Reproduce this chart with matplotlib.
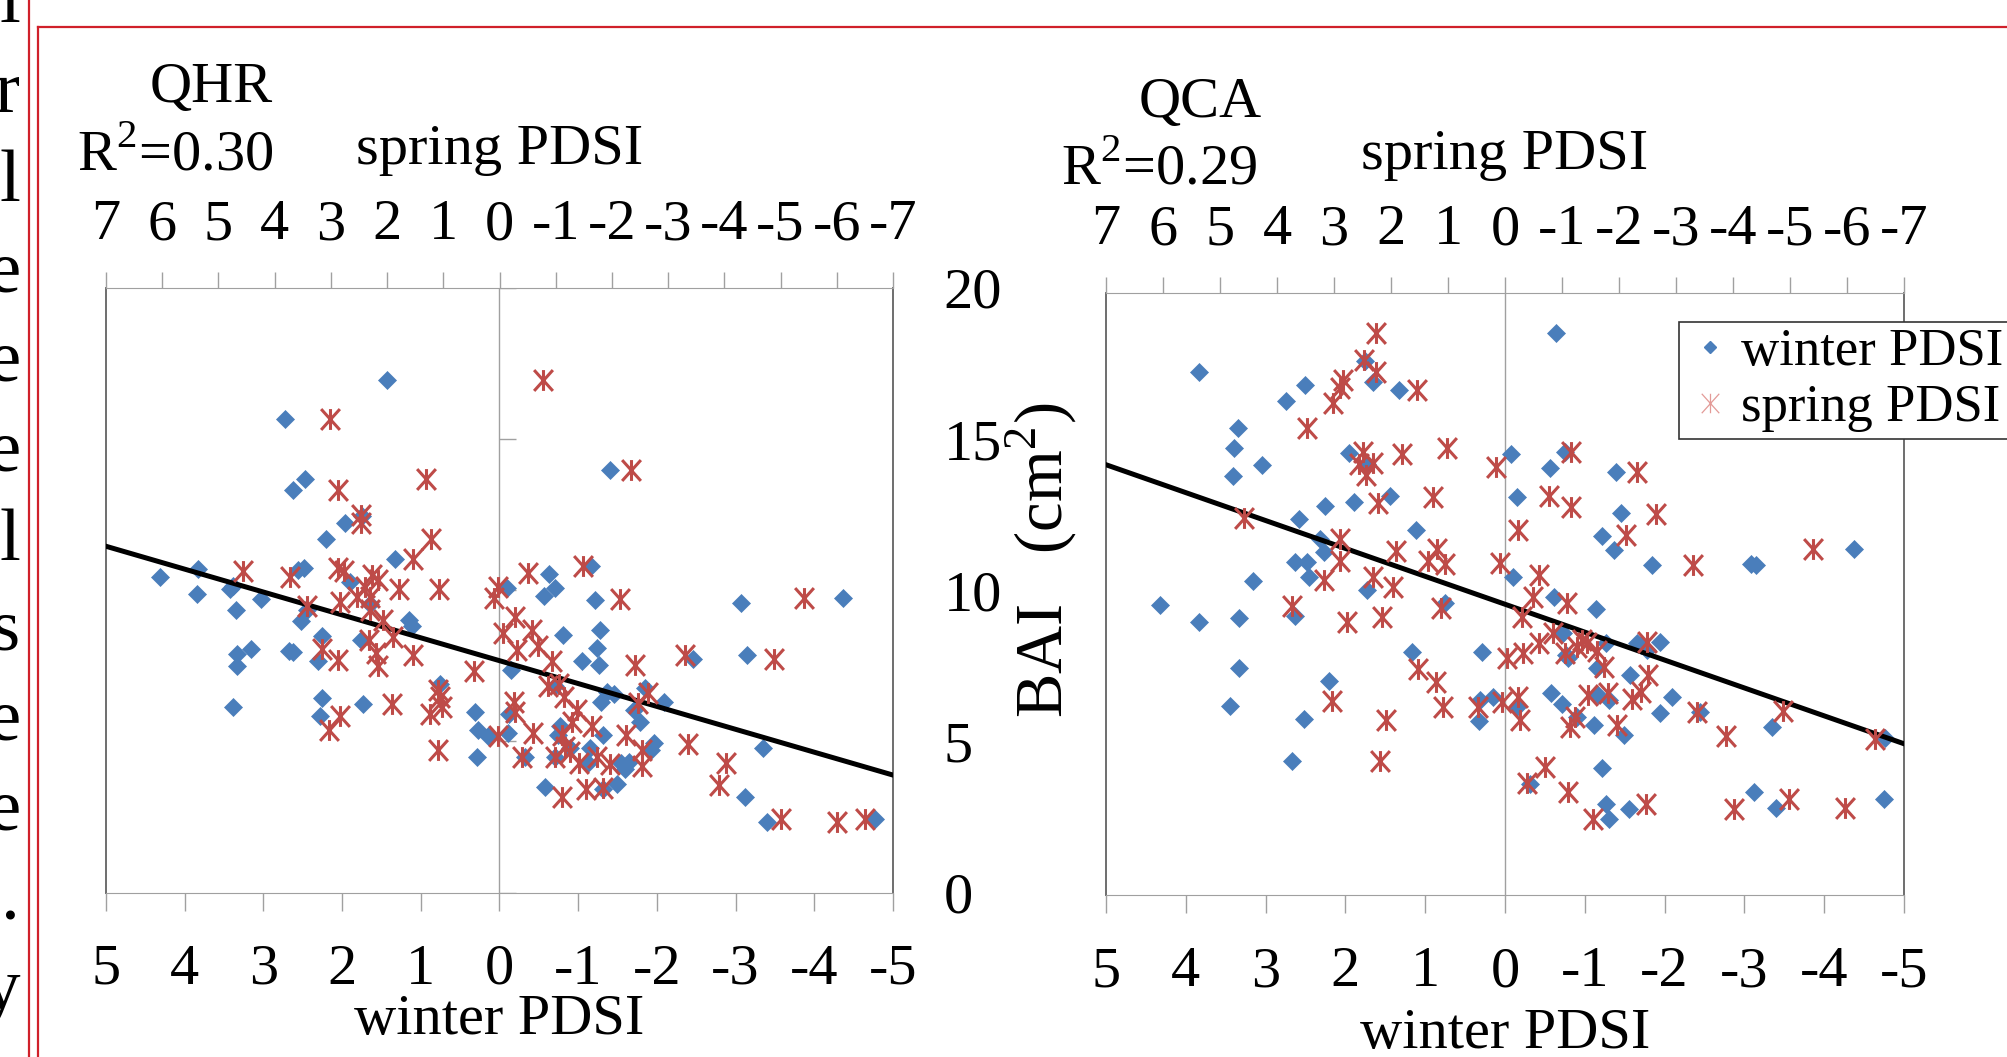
import numpy as np
import matplotlib.pyplot as plt
from matplotlib.lines import Line2D
from matplotlib.path import Path

plt.rcParams['font.family'] = ['Liberation Serif', 'DejaVu Serif']
plt.rcParams['mathtext.fontset'] = 'custom'
plt.rcParams['mathtext.rm'] = 'Liberation Serif'
plt.rcParams['axes.unicode_minus'] = False

# ---- data: (PDSI, BAI cm2) ----
qhr_winter = [
    (1.43, 16.95), (2.73, 15.65), (2.47, 13.67), (2.63, 13.33), (1.96, 12.23), (1.75, 12.45),
    (2.20, 11.69), (1.33, 11.02), (4.31, 10.45), (3.83, 10.69), (3.84, 9.87), (3.42, 10.03),
    (3.38, 10.14), (3.03, 9.70), (2.56, 10.67), (2.49, 10.74), (1.90, 10.28), (1.65, 9.56),
    (-1.40, 13.97), (-0.63, 10.53), (-0.71, 10.09), (-0.57, 9.81), (-1.16, 10.80), (-1.21, 9.67),
    (-3.07, 9.59), (-4.37, 9.76), (-0.09, 10.06),
    (3.35, 9.36), (2.52, 8.99), (2.45, 9.34), (2.26, 8.48), (3.16, 8.05), (3.34, 7.88),
    (3.33, 7.50), (2.68, 8.00), (2.62, 7.96), (2.31, 7.66), (1.76, 8.35), (1.15, 9.03),
    (1.11, 8.81), (3.39, 6.14), (2.25, 6.42), (2.28, 5.83), (1.73, 6.25), (0.75, 6.91),
    (0.31, 5.96), (0.27, 5.37), (0.15, 5.17), (0.29, 4.49),
    (-0.81, 8.53), (-1.28, 8.70), (-1.24, 8.10), (-1.05, 7.65), (-1.27, 7.54), (-0.15, 7.35),
    (-2.46, 7.74), (-3.14, 7.87), (-0.71, 6.83), (-1.36, 6.64), (-1.46, 6.58), (-1.29, 6.31),
    (-1.85, 6.75), (-2.09, 6.31), (-1.71, 6.03), (-1.78, 5.65), (-0.12, 5.92), (-0.11, 5.28),
    (-0.77, 5.50), (-0.74, 5.21), (-1.31, 5.21), (-0.90, 4.77), (-1.15, 4.77), (-1.96, 4.93),
    (-1.93, 4.73), (-0.32, 4.49), (-0.71, 4.49), (-1.13, 4.27), (-1.55, 4.27), (-1.64, 4.32),
    (-1.60, 4.10), (-0.58, 3.48), (-1.32, 3.44), (-1.49, 3.58), (-3.35, 4.79), (-3.12, 3.15),
    (-3.40, 2.34), (-4.77, 2.43),
]
qhr_spring = [
    (3.01, 15.65), (1.31, 13.67), (2.88, 13.33), (2.46, 12.48), (2.46, 12.23), (1.22, 11.69),
    (1.54, 11.02), (4.57, 10.64), (3.73, 10.45), (2.87, 10.75), (2.76, 10.64), (2.27, 10.50),
    (2.16, 10.34), (2.39, 10.12), (1.78, 10.03), (1.08, 10.03), (0.10, 9.75), (2.84, 9.62),
    (2.54, 9.79), (3.43, 9.48), (2.30, 9.79),
    (-0.78, 16.95), (-2.34, 13.97), (-0.50, 10.56), (-1.48, 10.80), (-2.15, 9.70), (-5.41, 9.73),
    (0.03, 10.10),
    (2.30, 9.34), (2.08, 9.01), (1.90, 8.46), (2.33, 8.37), (3.16, 8.07), (2.88, 7.69),
    (2.20, 7.93), (2.17, 7.50), (1.53, 7.85), (0.45, 7.33), (1.09, 6.69), (1.06, 6.47),
    (1.03, 6.14), (1.23, 5.92), (1.92, 6.25), (2.83, 5.83), (3.03, 5.37), (1.10, 4.73),
    (-0.28, 9.12), (-0.07, 8.57), (-0.57, 8.70), (-0.31, 8.02), (-0.69, 8.15), (-0.93, 7.65),
    (-2.41, 7.52), (-3.30, 7.85), (-4.89, 7.74), (-0.87, 6.83), (-1.05, 6.91), (-1.14, 6.47),
    (-1.38, 6.03), (-1.29, 5.65), (-1.64, 5.50), (-0.25, 6.31), (-0.28, 5.98), (-0.60, 5.28),
    (0.02, 5.17), (-1.11, 5.21), (-1.17, 4.82), (-1.26, 4.66), (-2.65, 6.60), (-2.47, 6.27),
    (-2.25, 5.21), (-2.53, 4.73), (-2.53, 4.18), (-1.97, 4.25), (-1.73, 4.49), (-1.41, 4.27),
    (-0.99, 4.47), (-0.40, 4.49), (-3.36, 4.91), (-4.03, 4.27), (-3.90, 3.55), (-1.11, 3.15),
    (-1.54, 3.44), (-1.85, 3.46), (-5.01, 2.42), (-6.00, 2.34), (-6.51, 2.42),
]
qhr_fit = (7.67, 0.757)   # intercept, slope against winter PDSI
qhr_r2 = '0.30'

qca_winter = [
    (3.84, 17.39), (2.51, 16.94), (2.74, 16.41), (1.75, 17.75), (1.65, 17.05), (1.33, 16.78),
    (3.35, 15.50), (3.40, 14.84), (3.05, 14.29), (3.41, 13.92), (1.96, 14.70), (1.73, 14.32),
    (1.44, 13.27), (2.25, 12.94), (1.89, 13.04), (2.58, 12.49), (1.12, 12.13), (2.32, 11.82),
    (2.27, 11.41), (2.63, 11.07), (2.48, 11.07), (2.45, 10.58), (3.16, 10.44), (1.73, 10.13),
    (-0.64, 18.68), (-0.08, 14.65), (-0.75, 14.73), (-0.57, 14.20), (-1.39, 14.06), (-0.15, 13.21),
    (-1.45, 12.70), (-1.21, 11.93), (-1.36, 11.46), (-1.84, 10.96), (-3.08, 11.00), (-3.15, 10.96),
    (-4.37, 11.48), (-0.10, 10.58),
    (4.32, 9.63), (3.83, 9.08), (3.33, 9.21), (2.63, 9.27), (0.75, 9.71), (1.16, 8.08),
    (0.29, 8.08), (3.33, 7.53), (2.20, 7.11), (3.45, 6.28), (2.52, 5.84), (2.67, 4.45),
    (0.31, 6.48), (0.32, 5.78), (0.15, 6.57),
    (-0.61, 9.91), (-1.14, 9.49), (-0.73, 8.72), (-1.27, 8.38), (-1.65, 8.38), (-1.71, 8.31),
    (-1.94, 8.42), (-0.77, 7.97), (-0.79, 7.86), (-1.78, 8.14), (-1.15, 7.53), (-1.57, 7.31),
    (-0.58, 6.72), (-0.71, 6.35), (-1.17, 6.64), (-1.30, 6.48), (-2.09, 6.59), (-1.94, 6.06),
    (-0.15, 6.24), (-0.90, 5.93), (-1.12, 5.65), (-1.49, 5.32), (-2.44, 6.09), (-3.34, 5.59),
    (-4.76, 5.20), (-1.22, 4.21), (-0.31, 3.69), (-1.27, 3.02), (-1.30, 2.52), (-1.55, 2.85),
    (-3.12, 3.43), (-3.39, 2.88), (-4.75, 3.19),
]
qca_spring = [
    (2.26, 18.66), (2.47, 17.77), (2.26, 17.39), (2.85, 17.11), (2.89, 16.83), (3.02, 16.36),
    (1.55, 16.78), (3.48, 15.50), (2.49, 14.73), (2.56, 14.32), (2.31, 14.34), (2.43, 13.95),
    (1.80, 14.65), (1.02, 14.84), (0.15, 14.21), (2.22, 13.01), (1.26, 13.21), (4.58, 12.51),
    (2.90, 11.82), (2.90, 11.11), (1.91, 11.44), (1.19, 11.48), (1.35, 11.11), (1.05, 11.00),
    (0.09, 11.04), (3.18, 10.47), (2.31, 10.58), (1.96, 10.24),
    (-1.15, 14.73), (-2.32, 14.04), (-0.78, 13.26), (-1.15, 12.90), (-0.23, 12.13), (-2.65, 12.66),
    (-2.13, 11.96), (-0.60, 10.63), (-3.30, 10.96), (-5.40, 11.48),
    (3.73, 9.60), (2.78, 9.08), (2.16, 9.23), (1.13, 9.52), (1.52, 7.50), (1.21, 7.09),
    (3.04, 6.46), (2.09, 5.81), (2.19, 4.45), (1.09, 6.26), (0.47, 6.26), (0.06, 6.42),
    (-0.50, 9.91), (-1.08, 9.71), (-0.29, 9.25), (-0.85, 8.72), (-0.60, 8.38), (-0.32, 8.05),
    (-0.03, 7.86), (-1.35, 8.47), (-1.26, 8.25), (-1.44, 8.38), (-1.05, 8.03), (-1.62, 8.12),
    (-2.49, 8.42), (-1.74, 7.56), (-2.51, 7.31), (-2.38, 6.76), (-1.81, 6.70), (-1.46, 6.64),
    (-2.22, 6.50), (-0.23, 6.59), (-0.26, 5.81), (-1.14, 5.59), (-1.23, 5.93), (-1.97, 5.65),
    (-3.36, 6.09), (-3.88, 5.28), (-4.88, 6.12), (-6.49, 5.17), (-0.70, 4.24), (-0.38, 3.71),
    (-1.11, 3.43), (-1.54, 2.52), (-2.47, 3.02), (-4.01, 2.85), (-4.99, 3.19), (-5.97, 2.88),
]
qca_fit = (9.66, 0.927)
qca_r2 = '0.29'

winter_ticks = np.arange(-5, 6)
spring_ticks = np.arange(-7, 8)
bai_ticks = np.arange(0, 21, 5)

# cropped word endings of the neighbouring text column
margin_letters = ['l', 'r', 'l', 'e', 'e', 'e', 'l', 's', 'e', 'e', '.', 'y']

BLUE = '#4A7EBB'
RED = '#BE4B48'
GRAY = '#A0A0A0'
DARK = '#6E6E6E'
FS = 42

star = Path([(0, -1), (0, 1), (-0.9, -1), (0.9, 1), (-0.9, 1), (0.9, -1)],
            [Path.MOVETO, Path.LINETO, Path.MOVETO, Path.LINETO, Path.MOVETO, Path.LINETO])

W, H = 2008, 1057
fig = plt.figure(figsize=(W / 100, H / 100), dpi=100)


def rect(left, top, right, bottom):
    return [left / W, 1 - bottom / H, (right - left) / W, (bottom - top) / H]


def panel(r, winter, spring, fit, bottom_lp, top_lp, right_labels):
    ax = fig.add_axes(r)
    top = ax.twiny()
    ax.set_xlim(5, -5)
    ax.set_ylim(0, 20)
    top.set_xlim(7, -7)
    ax.set_xticks(winter_ticks)
    top.set_xticks(spring_ticks)
    ax.set_yticks(bai_ticks)

    for s in ['left', 'right']:
        ax.spines[s].set_color(DARK)
        ax.spines[s].set_linewidth(1.4)
    ax.spines['bottom'].set_color(GRAY)
    ax.spines['top'].set_visible(False)
    for s in ['left', 'right', 'bottom']:
        top.spines[s].set_visible(False)
    top.spines['top'].set_color(GRAY)

    ax.tick_params(axis='x', direction='out', length=13, width=1, color=GRAY,
                   labelsize=FS, pad=24)
    top.tick_params(axis='x', direction='out', length=11.5, width=1, color=GRAY,
                    labelsize=FS, pad=15)
    ax.tick_params(axis='y', left=False, right=False, labelleft=False,
                   labelright=right_labels, labelsize=FS, pad=33)

    ax.axvline(0, color=GRAY, lw=1, zorder=0.5)

    wx, wy = np.array(winter).T
    sx, sy = np.array(spring).T
    ax.plot(wx, wy, ls='none', marker='D', ms=9, mfc=BLUE, mec=BLUE, mew=0.5, zorder=2)
    xs = np.array(ax.get_xlim())
    ax.plot(xs, fit[0] + fit[1] * xs, color='black', lw=3.6, zorder=3)
    top.plot(sx, sy, ls='none', marker=star, ms=15, mfc='none', mec=RED, mew=2.2)

    ax.set_xlabel('winter PDSI', fontsize=FS, labelpad=bottom_lp)
    top.set_xlabel('spring PDSI', fontsize=FS, labelpad=top_lp)
    return ax, top


ax1, top1 = panel(rect(106, 288, 893, 892.5), qhr_winter, qhr_spring, qhr_fit, -1.5, 25, True)
ax1.plot(np.zeros(len(bai_ticks)), bai_ticks, ls='none', marker=1, ms=12, mew=1,
         color=GRAY, zorder=0.6)

ax2, top2 = panel(rect(1106, 293, 1904, 895), qca_winter, qca_spring, qca_fit, 7, 25, False)
ax2.set_ylabel('BAI   (cm$^2$)', fontsize=48)
ax2.yaxis.set_label_coords(-0.034, 0.556)

fig.text(211 / W, 1 - 102 / H, 'QHR', fontsize=FS, ha='center', va='baseline')
fig.text(77 / W, 1 - 169 / H, 'R$^2$=' + qhr_r2, fontsize=FS, ha='left', va='baseline')
fig.text(1200 / W, 1 - 117 / H, 'QCA', fontsize=FS, ha='center', va='baseline')
fig.text(1061 / W, 1 - 184 / H, 'R$^2$=' + qca_r2, fontsize=FS, ha='left', va='baseline')

handles = [
    Line2D([], [], ls='none', marker='D', ms=6.5, mfc=BLUE, mec=BLUE),
    Line2D([], [], ls='none', marker=star, ms=14, mfc='none', mec='#E39A97', mew=0.9),
]
leg = fig.legend(handles, ['winter PDSI', 'spring PDSI'], loc='upper left',
                 bbox_to_anchor=(1679 / W, 1 - 322 / H), borderaxespad=0, fontsize=38,
                 frameon=True, fancybox=False, framealpha=1, edgecolor='#333333',
                 borderpad=0.12, labelspacing=0.15, handlelength=0.95, handletextpad=0.1)
leg.get_frame().set_linewidth(1.2)

# red page frame
red = '#D0202A'
fig.add_artist(Line2D([28.7 / W, 28.7 / W], [0, 1], color=red, lw=1.6, transform=fig.transFigure))
fig.add_artist(Line2D([38.3 / W, 38.3 / W], [0, 1 - 27 / H], color=red, lw=1.6,
                      transform=fig.transFigure))
fig.add_artist(Line2D([38.3 / W, 1], [1 - 27 / H, 1 - 27 / H], color=red, lw=1.6,
                      transform=fig.transFigure))

for i, ch in enumerate(margin_letters):
    fig.text(20 / W, 1 - (22 + 89.7 * i) / H, ch, fontsize=54, ha='right', va='baseline')

fig.savefig('out.png', dpi=100)
